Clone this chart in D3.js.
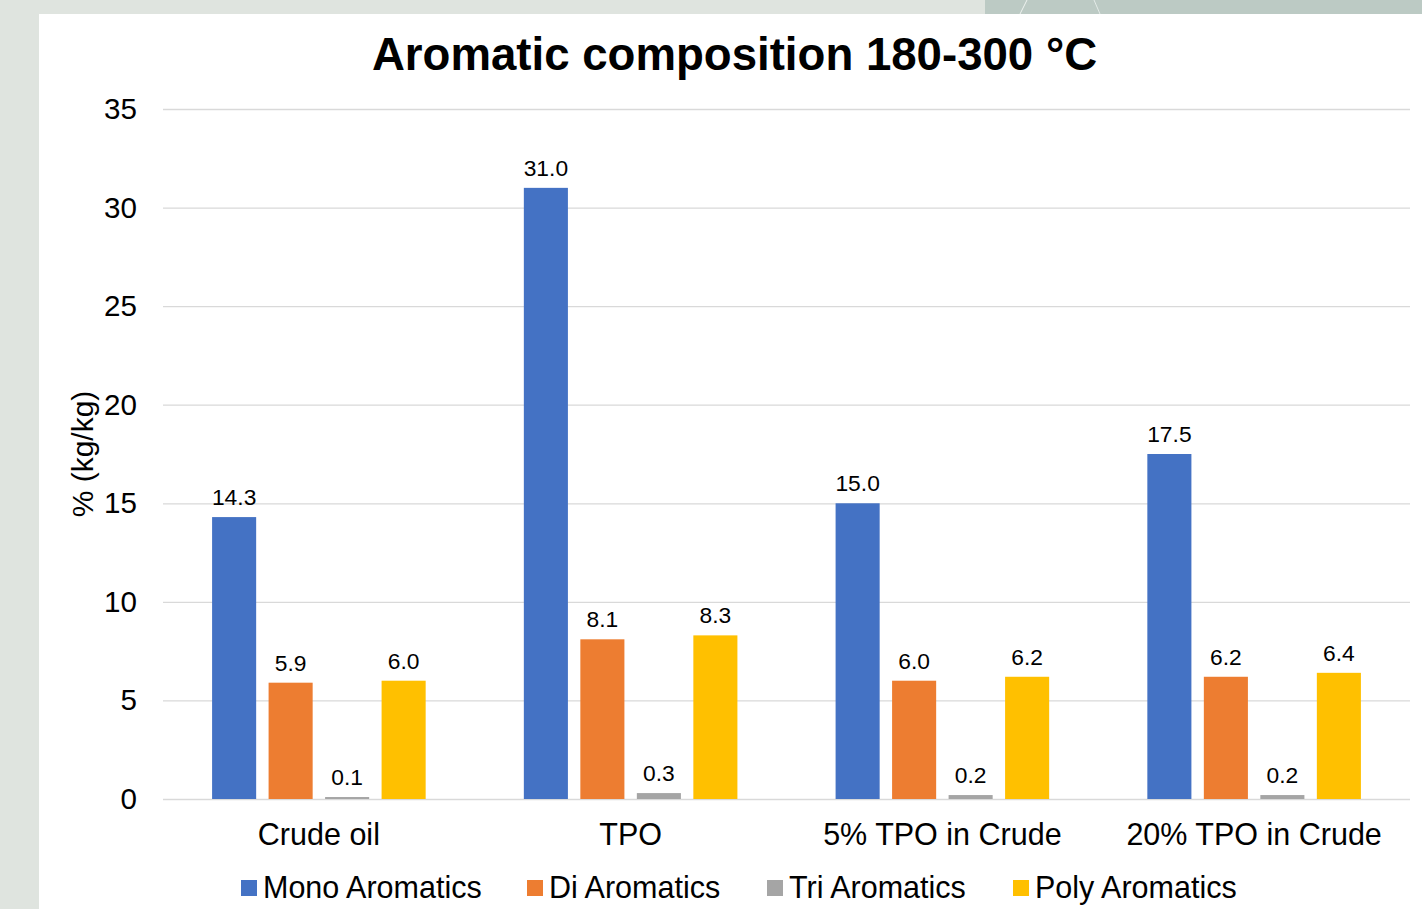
<!DOCTYPE html>
<html><head><meta charset="utf-8">
<script src="https://cdn.jsdelivr.net/npm/d3@7/dist/d3.min.js"></script>
<style>body{margin:0;background:#dfe4df;overflow:hidden}svg{display:block}text{font-family:"Liberation Sans",Arial,sans-serif}</style>
</head><body>
<svg id="c" width="1422" height="909"></svg>
<script>
const categories = ["Crude oil", "TPO", "5% TPO in Crude", "20% TPO in Crude"];
const seriesNames = ["Mono Aromatics", "Di Aromatics", "Tri Aromatics", "Poly Aromatics"];
const mono = [14.3, 31.0, 15.0, 17.5];
const di = [5.9, 8.1, 6.0, 6.2];
const tri = [0.1, 0.3, 0.2, 0.2];
const poly = [6.0, 8.3, 6.2, 6.4];
const yTicks = [0, 5, 10, 15, 20, 25, 30, 35];
const colors = ["#4472C4", "#ED7D31", "#A5A5A5", "#FFC000"];
const seriesValues = [mono, di, tri, poly];

const svg = d3.select("#c");
// background
svg.append("rect").attr("x",0).attr("y",0).attr("width",1422).attr("height",909).attr("fill","#dfe4df");
svg.append("rect").attr("x",985).attr("y",0).attr("width",437).attr("height",14).attr("fill","#bccac4");
svg.append("line").attr("x1",1020).attr("y1",14).attr("x2",1027).attr("y2",0).attr("stroke","#eef2ef").attr("stroke-width",1);
svg.append("line").attr("x1",1100).attr("y1",14).attr("x2",1094).attr("y2",0).attr("stroke","#e4ebe7").attr("stroke-width",1);
svg.append("rect").attr("x",39).attr("y",14).attr("width",1383).attr("height",895).attr("fill","#ffffff");

const plotL = 163, plotR = 1410, plotT = 109, plotB = 799;
const y = d3.scaleLinear().domain([0,35]).range([plotB, plotT]);
const x0 = d3.scaleBand().domain(categories).range([plotL, plotR]).paddingInner(0).paddingOuter(0);
const groupSpan = 226;
const x1 = d3.scaleBand().domain(seriesNames).range([0, groupSpan]).paddingInner(0.22).paddingOuter(0.11);

// gridlines
const yAxis = d3.axisLeft(y).tickValues(yTicks).tickSize(-(plotR-plotL)).tickPadding(26);
const gy = svg.append("g").attr("transform",`translate(${plotL},0)`).call(yAxis);
gy.select(".domain").remove();
gy.selectAll(".tick line").attr("stroke","#d9d9d9").attr("stroke-width",1.3);
gy.selectAll(".tick text").attr("font-size",29.6).attr("fill","#000");
gy.selectAll(".tick").filter(d=>d===0).select("line").attr("stroke","#d9d9d9").attr("stroke-width",1.5);

// bars
const groups = svg.append("g").selectAll("g").data(categories).join("g")
  .attr("transform", c => `translate(${x0(c)+x0.bandwidth()/2-groupSpan/2},0)`);
seriesNames.forEach((s, si) => {
  groups.append("rect")
    .attr("x", x1(s))
    .attr("width", x1.bandwidth())
    .attr("y", (c,ci) => y(seriesValues[si][ci]))
    .attr("height", (c,ci) => y(0) - y(seriesValues[si][ci]))
    .attr("fill", colors[si]);
  groups.append("text")
    .attr("x", x1(s) + x1.bandwidth()/2)
    .attr("y", (c,ci) => y(seriesValues[si][ci]) - 12)
    .attr("text-anchor","middle")
    .attr("font-size",22.8).attr("fill","#000")
    .text((c,ci) => seriesValues[si][ci].toFixed(1));
});

// x axis labels
const xAxis = d3.axisBottom(x0).tickSize(0).tickPadding(24);
const gx = svg.append("g").attr("transform",`translate(0,${plotB})`).call(xAxis);
gx.select(".domain").remove();
gx.selectAll(".tick text").attr("font-size",30.5).attr("fill","#000");

// title
svg.append("text").attr("x",734.5).attr("y",70).attr("text-anchor","middle")
  .attr("font-size",45.6).attr("font-weight","bold").attr("fill","#000")
  .text("Aromatic composition 180-300 °C");

// y title
svg.append("text").attr("transform","translate(93,454) rotate(-90)").attr("text-anchor","middle")
  .attr("font-size",30).attr("fill","#000").text("% (kg/kg)");

// legend
const legendX = [241, 527, 767, 1013];
const lg = svg.append("g").selectAll("g").data(seriesNames).join("g")
  .attr("transform",(d,i)=>`translate(${legendX[i]},887)`);
lg.append("rect").attr("x",0).attr("y",-7).attr("width",16).attr("height",16).attr("fill",(d,i)=>colors[i]);
lg.append("text").attr("x",22).attr("y",11).attr("font-size",30.5).attr("fill","#000").text(d=>d);
</script>
</body></html>
